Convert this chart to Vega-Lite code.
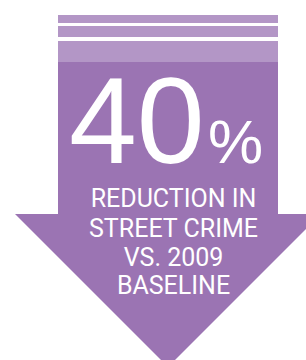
{
  "$schema": "https://vega.github.io/schema/vega-lite/v6.json",
  "width": 306,
  "height": 360,
  "padding": 0,
  "autosize": {"type": "none"},
  "background": "#ffffff",
  "config": {"view": {"stroke": null}},
  "datasets": {
    "stripes": [
      {"part": "stripe 1", "x": 58, "x2": 278, "y": 15, "y2": 23},
      {"part": "stripe 2", "x": 58, "x2": 278, "y": 26, "y2": 37},
      {"part": "stripe 3", "x": 58, "x2": 278, "y": 41, "y2": 62}
    ],
    "body": [
      {"part": "shaft", "x": 58, "x2": 278, "y": 62, "y2": 215}
    ],
    "head": [
      {"y": 214, "x": 15, "x2": 306},
      {"y": 229, "x": 30, "x2": 306},
      {"y": 360, "x": 161, "x2": 175}
    ],
    "figure": [
      {"text": "40", "x": 69, "y": 163}
    ],
    "unit": [
      {"text": "%", "x": 208, "y": 163}
    ],
    "caption": [
      {"line": 1, "text": "REDUCTION IN", "x": 173.5, "y": 207.3},
      {"line": 2, "text": "STREET CRIME", "x": 173.5, "y": 237.3},
      {"line": 3, "text": "VS. 2009", "x": 173.5, "y": 265.7},
      {"line": 4, "text": "BASELINE", "x": 173.5, "y": 293.5}
    ]
  },
  "encoding": {
    "x": {"field": "x", "type": "quantitative", "axis": null, "scale": {"domain": [0, 306], "nice": false, "zero": false}},
    "y": {"field": "y", "type": "quantitative", "axis": null, "scale": {"domain": [0, 360], "nice": false, "zero": false, "reverse": true}}
  },
  "layer": [
    {
      "data": {"name": "stripes"},
      "mark": {"type": "rect", "color": "#b396c6"},
      "encoding": {
        "x2": {"field": "x2"},
        "y2": {"field": "y2"}
      }
    },
    {
      "data": {"name": "body"},
      "mark": {"type": "rect", "color": "#9b74b3"},
      "encoding": {
        "x2": {"field": "x2"},
        "y2": {"field": "y2"}
      }
    },
    {
      "data": {"name": "head"},
      "mark": {"type": "area", "orient": "horizontal", "color": "#9b74b3", "opacity": 1, "fillOpacity": 1},
      "encoding": {
        "x": {"field": "x", "type": "quantitative", "stack": null, "axis": null, "scale": {"domain": [0, 306], "nice": false, "zero": false}},
        "x2": {"field": "x2"},
        "y": {"field": "y", "type": "quantitative", "axis": null, "scale": {"domain": [0, 360], "nice": false, "zero": false, "reverse": true}}
      }
    },
    {
      "data": {"name": "figure"},
      "mark": {"type": "text", "align": "left", "baseline": "alphabetic", "font": "Liberation Sans", "fontSize": 122, "color": "#ffffff"},
      "encoding": {
        "text": {"field": "text"}
      }
    },
    {
      "data": {"name": "unit"},
      "mark": {"type": "text", "align": "left", "baseline": "alphabetic", "font": "Liberation Sans", "fontSize": 62, "color": "#ffffff"},
      "encoding": {
        "text": {"field": "text"}
      }
    },
    {
      "data": {"name": "caption"},
      "mark": {"type": "text", "align": "center", "baseline": "alphabetic", "font": "Roboto", "fontSize": 25, "color": "#ffffff"},
      "encoding": {
        "text": {"field": "text"}
      }
    }
  ]
}
